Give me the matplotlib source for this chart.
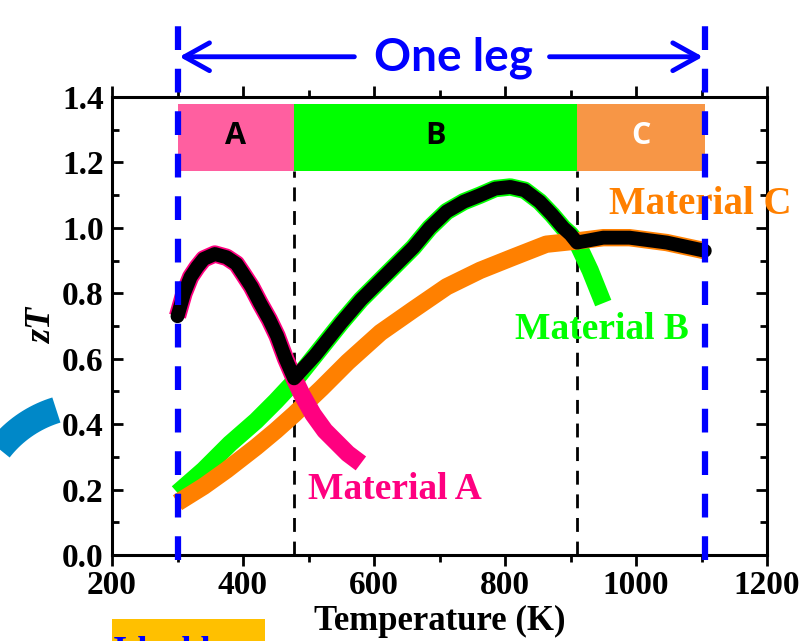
import numpy as np
import matplotlib.pyplot as plt
from matplotlib.patches import Rectangle
from matplotlib.lines import Line2D
from matplotlib.ticker import MultipleLocator

# zT curves
T_a = [300, 310, 320, 330, 340, 357, 375, 390, 400, 413, 426, 440, 452, 465, 478,
       490, 507, 525, 545, 560, 580]
zT_a = [0.73, 0.80, 0.85, 0.88, 0.905, 0.92, 0.91, 0.89, 0.86, 0.82, 0.77, 0.72, 0.67,
        0.60, 0.54, 0.49, 0.43, 0.38, 0.34, 0.31, 0.28]

T_b = [300, 340, 380, 420, 450, 478, 510, 550, 580, 610, 635, 660, 685, 711, 737,
       762, 785, 808, 830, 853, 872, 889, 900, 910, 930, 950]
zT_b = [0.19, 0.26, 0.34, 0.41, 0.47, 0.53, 0.61, 0.71, 0.78, 0.84, 0.89, 0.94, 1.00,
        1.05, 1.08, 1.10, 1.12, 1.125, 1.115, 1.08, 1.04, 1.00, 0.98, 0.955, 0.87, 0.77]

T_c = [300, 340, 375, 420, 450, 478, 520, 560, 610, 660, 711, 762, 812, 863, 910,
       950, 990, 1047, 1105]
zT_c = [0.16, 0.21, 0.26, 0.33, 0.38, 0.43, 0.51, 0.59, 0.68, 0.75, 0.82, 0.87, 0.91,
        0.95, 0.96, 0.97, 0.97, 0.955, 0.93]

# segment boundaries (K): A | B | C
edges = [300, 478, 910, 1105]
seg_names = ['A', 'B', 'C']
seg_colors = ['#FF5FA0', '#00FF00', '#F79646']
seg_text = ['black', 'black', 'white']

c_a, c_b, c_c = '#FF0080', '#00FF00', '#FF8000'

plt.rcParams['font.family'] = ['Liberation Serif', 'DejaVu Serif']
plt.rcParams['font.weight'] = 'bold'

fig = plt.figure(figsize=(8.08, 6.41), dpi=100)
ax = fig.add_axes([112/808, 1-555/641, 655/808, 458/641])

# material curves
ax.plot(T_b, zT_b, color=c_b, lw=12.5, solid_capstyle='butt', zorder=3)
ax.plot(T_c, zT_c, color=c_c, lw=12.5, solid_capstyle='butt', zorder=3)
ax.plot(T_a, zT_a, color=c_a, lw=12.5, solid_capstyle='butt', zorder=3)

# best-of envelope in black
Ta, Tb, Tc = np.array(T_a), np.array(T_b), np.array(T_c)
za, zb, zc = np.array(zT_a), np.array(zT_b), np.array(zT_c)
ma = Ta <= edges[1]
mb = (Tb > edges[1]) & (Tb <= edges[2])
mc = Tc > edges[2]
env_T = np.concatenate([Ta[ma], Tb[mb], Tc[mc]])
env_z = np.concatenate([za[ma], zb[mb], zc[mc]])
ax.plot(env_T, env_z, color='black', lw=10, solid_capstyle='round',
        solid_joinstyle='round', zorder=4)

# segment bars
for i in range(3):
    ax.add_patch(Rectangle((edges[i], 1.175), edges[i+1]-edges[i], 0.205,
                           facecolor=seg_colors[i], edgecolor='none', zorder=2))
    ax.text((edges[i]+edges[i+1])/2, 1.28, seg_names[i], ha='center', va='center',
            fontsize=22, fontweight='bold', color=seg_text[i],
            family=['Open Sans', 'DejaVu Sans'], zorder=5)

# inner boundaries
for x in edges[1:3]:
    ax.plot([x, x], [0, 1.175], color='black', lw=2, ls=(0, (5, 3.5)), zorder=1)

# leg ends
for x in [edges[0], edges[3]]:
    ax.plot([x, x], [-0.015, 1.67], color='#0000FF', lw=4.5, ls=(0, (3.8, 3)),
            clip_on=False, zorder=6)

# "One leg" arrow
ax.text(722, 1.48, 'One leg', ha='center', va='baseline', color='#0000FF',
        fontsize=33, fontweight='bold', family=['Lato', 'DejaVu Sans'])
for x0, x1 in [(570, 303), (868, 1102)]:
    ax.annotate('', xy=(x1, 1.523), xytext=(x0, 1.523), annotation_clip=False,
                arrowprops=dict(arrowstyle='->, head_length=0.9, head_width=0.5',
                                mutation_scale=20, color='#0000FF', lw=3.5,
                                shrinkA=0, shrinkB=0))

# material labels
ax.text(632, 0.20, 'Material A', color=c_a, fontsize=27, ha='center', va='center')
ax.text(948, 0.69, 'Material B', color=c_b, fontsize=27, ha='center', va='center')
ax.text(1098, 1.07, 'Material C', color=c_c, fontsize=28, ha='center', va='center')

ax.set_xlim(200, 1200)
ax.set_ylim(0, 1.4)
ax.xaxis.set_major_locator(MultipleLocator(200))
ax.xaxis.set_minor_locator(MultipleLocator(100))
ax.yaxis.set_major_locator(MultipleLocator(0.2))
ax.yaxis.set_minor_locator(MultipleLocator(0.1))
ax.yaxis.set_major_formatter(plt.FormatStrFormatter('%.1f'))
ax.tick_params(axis='x', which='both', direction='out', labelsize=24, width=2, pad=3)
ax.tick_params(axis='x', which='major', length=8)
ax.tick_params(axis='x', which='minor', length=5)
ax.tick_params(axis='y', which='both', direction='in', right=True, labelsize=24, width=2,
               pad=6)
ax.tick_params(axis='y', which='major', length=8)
ax.tick_params(axis='y', which='minor', length=5)
ax.tick_params(axis='x', which='both', top=True)
for s in ax.spines.values():
    s.set_linewidth(2.2)
ax.set_xlabel('Temperature (K)', fontsize=25, fontweight='bold', labelpad=3)
ax.set_ylabel('zT', fontsize=26, fontweight='bold', style='italic', labelpad=2)

# decorations cropped from the surrounding slide
ang = np.linspace(np.radians(218), np.radians(253), 20)
fig.add_artist(Line2D((90 + 115*np.cos(ang))/808, 1 - (520 + 115*np.sin(ang))/641,
                      color='#0088C8', lw=19, solid_capstyle='butt'))
fig.add_artist(Rectangle((112/808, 0), 153/808, 22/641, facecolor='#FFC000',
                         edgecolor='none', transform=fig.transFigure))
fig.text(113/808, -20/641, 'Ideal leg', color='#0000FF', fontsize=26,
         fontweight='bold', va='baseline')

fig.savefig('out.png', dpi=100)
